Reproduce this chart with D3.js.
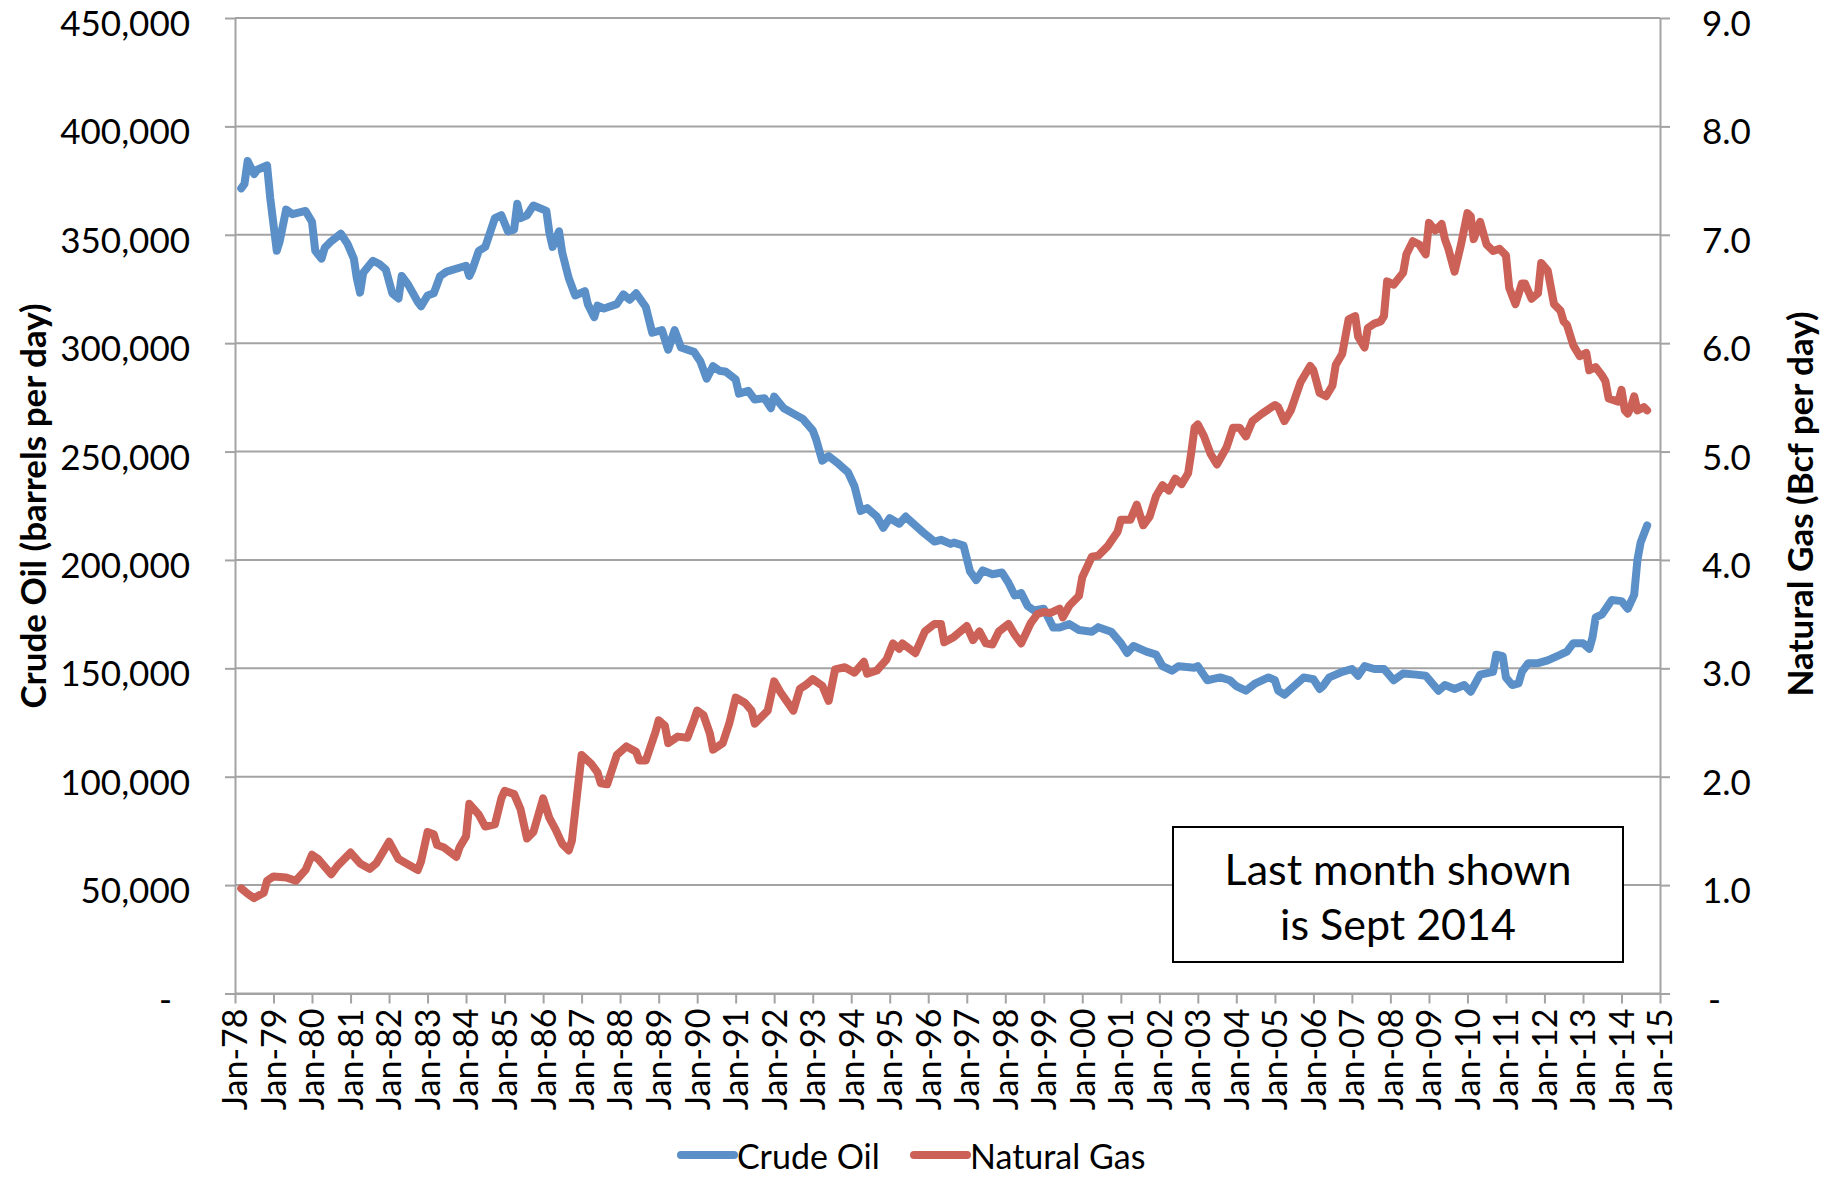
<!doctype html>
<html lang="en">
<head>
<meta charset="utf-8">
<title>Crude Oil and Natural Gas</title>
<script src="https://d3js.org/d3.v7.min.js"></script>
<style>
  body { margin: 0; background: #fff; }
  svg { display: block; font-family: Lato, "Open Sans", sans-serif; }
</style>
</head>
<body>
<div id="chart"></div>
<script>
// crude oil, barrels per day
var oilDates = ["1978-03","1978-04","1978-05","1978-07","1978-08","1978-11","1978-12","1979-02","1979-03","1979-05","1979-07","1979-11",
  "1980-01","1980-02","1980-04","1980-05","1980-07","1980-10","1980-12","1981-02","1981-03","1981-04","1981-05","1981-08","1981-10","1981-12",
  "1982-02","1982-04","1982-05","1982-07","1982-10","1982-11","1983-01","1983-03","1983-05","1983-07","1984-01","1984-02","1984-03","1984-05",
  "1984-07","1984-10","1984-12","1985-02","1985-04","1985-05","1985-06","1985-08","1985-10","1986-02","1986-03","1986-04","1986-06","1986-07",
  "1986-09","1986-11","1987-02","1987-03","1987-05","1987-06","1987-08","1987-12","1988-02","1988-04","1988-06","1988-09","1988-11","1989-02",
  "1989-04","1989-06","1989-08","1989-12","1990-02","1990-04","1990-06","1990-08","1990-10","1991-01","1991-02","1991-05","1991-07","1991-10",
  "1991-12","1992-01","1992-04","1992-07","1992-10","1993-01","1993-02","1993-04","1993-06","1993-09","1993-12","1994-02","1994-04","1994-06",
  "1994-09","1994-11","1995-01","1995-04","1995-06","1995-08","1995-12","1996-03","1996-05","1996-08","1996-09","1996-12","1997-02","1997-04",
  "1997-06","1997-09","1997-12","1998-02","1998-04","1998-06","1998-08","1998-10","1999-01","1999-04","1999-06","1999-09","1999-12","2000-04",
  "2000-06","2000-10","2001-01","2001-03","2001-05","2001-09","2001-12","2002-02","2002-05","2002-07","2002-12","2003-01","2003-04","2003-08",
  "2003-11","2004-01","2004-04","2004-07","2004-11","2005-01","2005-02","2005-04","2005-07","2005-10","2006-01","2006-03","2006-04","2006-06",
  "2006-10","2007-01","2007-03","2007-05","2007-08","2007-11","2008-02","2008-05","2008-09","2008-12","2009-02","2009-04","2009-06","2009-09",
  "2009-12","2010-02","2010-05","2010-09","2010-10","2010-12","2011-01","2011-03","2011-05","2011-06","2011-08","2011-11","2012-02","2012-06",
  "2012-08","2012-10","2013-01","2013-03","2013-04","2013-05","2013-07","2013-10","2014-01","2014-03","2014-05","2014-06","2014-07","2014-09"];
var oilValues = [371400,373500,384000,378000,380000,382000,367000,342600,347000,361600,359500,361000,
  356000,342600,339000,344000,347000,350500,346000,339000,330000,323300,332500,338000,336500,334000,
  323000,320600,331000,327000,319000,317000,322000,323000,331000,333000,335700,331000,334000,342600,
  344400,357700,359000,351600,352400,364300,357700,359000,363500,361000,351000,344400,351600,341800,
  330000,322000,324000,318000,312000,317300,316000,318000,322500,320000,323000,316700,304800,306000,
  297000,306000,298000,296000,291500,283600,289400,287300,286800,283300,276700,278000,274000,274600,
  270000,275400,270000,267500,265000,259800,255800,245800,247900,244400,240500,234000,222600,223900,
  220000,214800,219300,216700,220000,217300,212000,208500,209300,207400,208000,206600,194700,190700,
  195200,193400,194200,189400,183600,184700,178800,176700,177500,168800,168800,170400,167700,166900,
  169000,166900,161600,157100,160300,157700,156300,151000,148900,151000,150300,151000,144500,145800,
  144500,141800,139700,143100,145800,144500,139700,137800,141800,145800,145000,140500,141800,145800,
  148400,149700,146600,151000,149700,149700,144500,147600,147100,146600,143100,139700,142300,140500,
  142300,139200,147100,148400,156300,155600,145800,142300,143100,148400,152400,152400,153700,156300,
  157700,161600,161600,159000,164300,173500,174900,181500,181000,177500,183900,200000,208000,215900];

// natural gas, Bcf per day
var gasDates = ["1978-03","1978-05","1978-07","1978-10","1978-11","1979-01","1979-05","1979-08","1979-11","1980-01","1980-03","1980-07",
  "1980-09","1981-01","1981-04","1981-07","1981-09","1982-01","1982-04","1982-07","1982-10","1982-11","1983-01","1983-03","1983-04","1983-06",
  "1983-10","1983-11","1984-01","1984-02","1984-05","1984-07","1984-10","1984-12","1985-01","1985-04","1985-06","1985-08","1985-10","1986-01",
  "1986-03","1986-05","1986-07","1986-09","1986-10","1986-12","1987-01","1987-04","1987-06","1987-07","1987-09","1987-12","1988-03","1988-06",
  "1988-07","1988-09","1988-12","1989-01","1989-03","1989-04","1989-07","1989-10","1989-12","1990-01","1990-03","1990-05","1990-06","1990-09",
  "1990-11","1991-01","1991-04","1991-06","1991-07","1991-11","1992-01","1992-03","1992-07","1992-09","1992-11","1993-01","1993-04","1993-06",
  "1993-08","1993-11","1994-02","1994-05","1994-06","1994-09","1994-12","1995-02","1995-04","1995-05","1995-09","1995-12","1996-03","1996-05",
  "1996-06","1996-09","1997-01","1997-03","1997-05","1997-07","1997-09","1997-11","1998-02","1998-04","1998-06","1998-09","1998-11","1999-01",
  "1999-03","1999-06","1999-07","1999-09","1999-12","2000-01","2000-04","2000-06","2000-09","2000-12","2001-01","2001-04","2001-06","2001-08",
  "2001-10","2001-12","2002-02","2002-04","2002-06","2002-08","2002-10","2002-11","2002-12","2003-01","2003-03","2003-05","2003-07","2003-10",
  "2003-12","2004-02","2004-04","2004-06","2004-09","2005-01","2005-02","2005-04","2005-06","2005-09","2005-12","2006-01","2006-03","2006-05",
  "2006-07","2006-08","2006-10","2006-12","2007-02","2007-03","2007-05","2007-06","2007-08","2007-10","2007-11","2007-12","2008-02","2008-05",
  "2008-06","2008-08","2008-10","2008-12","2009-01","2009-03","2009-05","2009-06","2009-07","2009-09","2009-11","2010-01","2010-02","2010-03",
  "2010-05","2010-07","2010-09","2010-11","2011-01","2011-02","2011-04","2011-06","2011-07","2011-09","2011-11","2011-12","2012-02","2012-04",
  "2012-06","2012-07","2012-08","2012-10","2012-12","2013-02","2013-03","2013-05","2013-07","2013-08","2013-09","2013-12","2014-01","2014-02",
  "2014-03","2014-04","2014-05","2014-06","2014-08","2014-09"];
var gasValues = [0.97,0.92,0.88,0.93,1.04,1.08,1.07,1.04,1.14,1.28,1.24,1.10,
  1.18,1.30,1.20,1.15,1.20,1.40,1.24,1.19,1.14,1.22,1.49,1.47,1.37,1.35,
  1.26,1.35,1.45,1.75,1.65,1.54,1.56,1.80,1.87,1.84,1.70,1.43,1.49,1.80,
  1.62,1.51,1.38,1.32,1.41,1.94,2.20,2.12,2.04,1.94,1.93,2.20,2.28,2.23,
  2.15,2.15,2.41,2.52,2.47,2.31,2.37,2.36,2.52,2.61,2.57,2.40,2.25,2.31,
  2.49,2.73,2.68,2.61,2.49,2.61,2.88,2.78,2.61,2.81,2.85,2.90,2.84,2.70,
  2.99,3.01,2.96,3.06,2.95,2.98,3.08,3.23,3.18,3.23,3.14,3.34,3.41,3.41,
  3.24,3.29,3.39,3.26,3.34,3.23,3.22,3.34,3.41,3.31,3.23,3.42,3.50,3.52,
  3.51,3.55,3.47,3.58,3.67,3.84,4.03,4.04,4.13,4.26,4.37,4.37,4.51,4.32,
  4.40,4.59,4.69,4.64,4.75,4.70,4.80,5.00,5.22,5.25,5.14,4.98,4.88,5.04,
  5.22,5.22,5.14,5.28,5.35,5.43,5.41,5.28,5.38,5.64,5.79,5.75,5.54,5.51,
  5.61,5.80,5.90,6.22,6.25,6.06,5.96,6.14,6.18,6.20,6.25,6.57,6.54,6.65,
  6.82,6.94,6.91,6.82,7.11,7.04,7.10,6.96,6.88,6.66,6.91,7.20,7.17,6.96,
  7.12,6.91,6.85,6.87,6.81,6.51,6.36,6.55,6.55,6.41,6.46,6.74,6.67,6.36,
  6.30,6.20,6.17,5.98,5.88,5.91,5.75,5.78,5.70,5.65,5.49,5.46,5.57,5.38,
  5.35,5.41,5.51,5.38,5.41,5.38];

var leftTicks = [0, 50000, 100000, 150000, 200000, 250000, 300000, 350000, 400000, 450000];
var rightTicks = [0, 1, 2, 3, 4, 5, 6, 7, 8, 9];
var seriesNames = ["Crude Oil", "Natural Gas"];
var seriesColors = ["#5b8fc8", "#cc6158"];
var noteLines = ["Last month shown", "is Sept 2014"];

var parse = d3.timeParse("%Y-%m");
var oil = oilDates.map(function(d, i) { return {date: parse(d), value: oilValues[i]}; });
var gas = gasDates.map(function(d, i) { return {date: parse(d), value: gasValues[i]}; });

var width = 1826, height = 1182;
var plotLeft = 235, plotRight = 1660, plotTop = 18, plotBottom = 993.5;
var gridColor = "#a3a3a3";

var svg = d3.select("#chart").append("svg")
  .attr("width", width)
  .attr("height", height);

var x = d3.scaleTime().domain([parse("1978-01"), parse("2015-01")]).range([plotLeft, plotRight]);
var yL = d3.scaleLinear().domain([0, 450000]).range([plotBottom, plotTop]);
var yR = d3.scaleLinear().domain([0, 9]).range([plotBottom, plotTop]);

// gridlines
svg.append("g").selectAll("line")
  .data(leftTicks)
  .enter().append("line")
    .attr("x1", plotLeft).attr("x2", plotRight)
    .attr("y1", function(d) { return yL(d); })
    .attr("y2", function(d) { return yL(d); })
    .attr("stroke", gridColor)
    .attr("stroke-width", 2);

function styleAxis(g, size) {
  g.attr("font-family", "Lato, 'Open Sans', sans-serif").attr("font-size", size);
  g.selectAll("line, path").attr("stroke", gridColor).attr("stroke-width", 2);
  g.selectAll("text").attr("fill", "#000");
}

// left axis
var gL = svg.append("g")
  .attr("transform", "translate(" + plotLeft + ",0)")
  .call(d3.axisLeft(yL).tickValues(leftTicks).tickSize(10).tickSizeOuter(0).tickPadding(35)
    .tickFormat(function(d) { return d === 0 ? "-" : d3.format(",")(d); }));
styleAxis(gL, 35);
gL.selectAll("text").attr("dy", "0.5em");
gL.selectAll("text").filter(function(d) { return d === 0; }).attr("dx", -18);

// right axis
var gR = svg.append("g")
  .attr("transform", "translate(" + plotRight + ",0)")
  .call(d3.axisRight(yR).tickValues(rightTicks).tickSize(10).tickSizeOuter(0).tickPadding(32)
    .tickFormat(function(d) { return d === 0 ? "-" : d3.format(".1f")(d); }));
styleAxis(gR, 35);
gR.selectAll("text").attr("dy", "0.5em");
gR.selectAll("text").filter(function(d) { return d === 0; }).attr("dx", 6);

// bottom axis
var gX = svg.append("g")
  .attr("transform", "translate(0," + plotBottom + ")")
  .call(d3.axisBottom(x).tickValues(d3.timeYear.range(parse("1978-01"), parse("2015-02")))
    .tickSize(10).tickSizeOuter(0).tickFormat(d3.timeFormat("%b-%y")));
styleAxis(gX, 34);
gX.selectAll("text")
  .attr("transform", "rotate(-90)")
  .attr("x", -15)
  .attr("y", 0)
  .attr("dy", "0.35em")
  .style("text-anchor", "end");

// axis titles
svg.append("text")
  .attr("transform", "translate(32,506) rotate(-90)")
  .attr("text-anchor", "middle")
  .attr("dominant-baseline", "central")
  .style("font-size", "35px")
  .style("font-weight", "bold")
  .text("Crude Oil (barrels per day)");

svg.append("text")
  .attr("transform", "translate(1799,504) rotate(-90)")
  .attr("text-anchor", "middle")
  .attr("dominant-baseline", "central")
  .style("font-size", "35px")
  .style("font-weight", "bold")
  .text("Natural Gas (Bcf per day)");

// lines
svg.append("path")
  .datum(oil)
  .attr("fill", "none")
  .attr("stroke", seriesColors[0])
  .attr("stroke-width", 8)
  .attr("stroke-linejoin", "round")
  .attr("stroke-linecap", "round")
  .attr("d", d3.line()
    .x(function(d) { return x(d.date); })
    .y(function(d) { return yL(d.value); }));

svg.append("path")
  .datum(gas)
  .attr("fill", "none")
  .attr("stroke", seriesColors[1])
  .attr("stroke-width", 8)
  .attr("stroke-linejoin", "round")
  .attr("stroke-linecap", "round")
  .attr("d", d3.line()
    .x(function(d) { return x(d.date); })
    .y(function(d) { return yR(d.value); }));

// note box
var note = svg.append("g");
note.append("rect")
  .attr("x", 1173).attr("y", 827)
  .attr("width", 450).attr("height", 135)
  .attr("fill", "#fff")
  .attr("stroke", "#000")
  .attr("stroke-width", 2);
note.selectAll("text")
  .data(noteLines)
  .enter().append("text")
    .attr("x", 1398)
    .attr("y", function(d, i) { return 868 + i * 55; })
    .attr("text-anchor", "middle")
    .attr("dominant-baseline", "central")
    .style("font-size", "43px")
    .text(function(d) { return d; });

// legend
var legendX = [681, 914];
var legend = svg.append("g").selectAll("g")
  .data(seriesNames)
  .enter().append("g")
    .attr("transform", function(d, i) { return "translate(" + legendX[i] + ",1155)"; });
legend.append("line")
  .attr("x1", 0).attr("x2", 53)
  .attr("stroke", function(d, i) { return seriesColors[i]; })
  .attr("stroke-width", 8)
  .attr("stroke-linecap", "round");
legend.append("text")
  .attr("x", 56)
  .attr("dominant-baseline", "central")
  .style("font-size", "34px")
  .text(function(d) { return d; });
</script>
</body>
</html>
